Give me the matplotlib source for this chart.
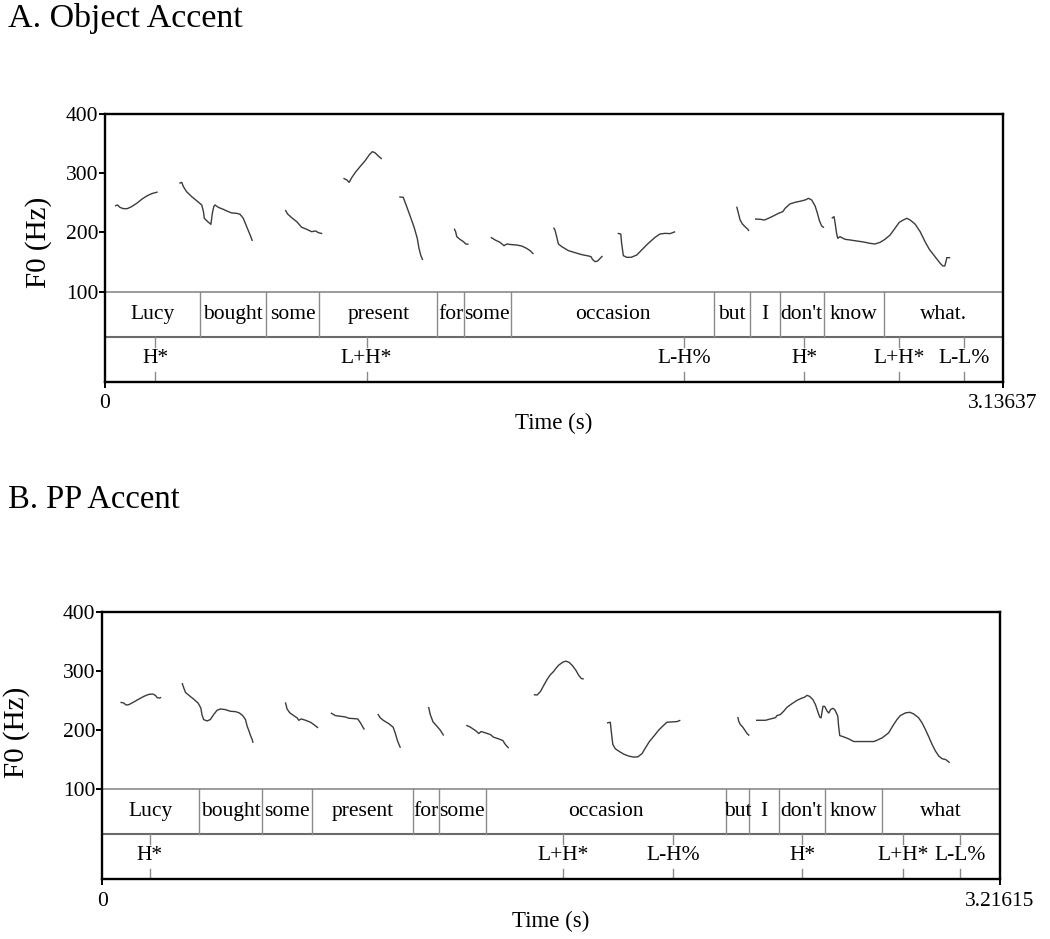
import matplotlib
matplotlib.use("Agg")
import matplotlib.pyplot as plt

plt.rcParams['font.family'] = ['Liberation Serif', 'DejaVu Serif']

# ---------------- Panel A: Object Accent ----------------
A_DURATION = 3.13637
A_WORDS = ["Lucy", "bought", "some", "present", "for", "some", "occasion",
           "but", "I", "don't", "know", "what."]
A_WORD_BOUNDS = [0.0, 0.331, 0.561, 0.749, 1.161, 1.253, 1.418, 2.128,
                 2.254, 2.357, 2.512, 2.721, 3.13637]
A_TONES = ["H*", "L+H*", "L-H%", "H*", "L+H*", "L-L%"]
A_TONE_TIMES = [0.176, 0.914, 2.023, 2.443, 2.773, 3.001]

A_F0_T = [
    [0.035, 0.044, 0.052, 0.064, 0.078, 0.093, 0.111, 0.128, 0.146, 0.163, 0.184],
    [0.260, 0.268, 0.274, 0.285, 0.303, 0.320, 0.338, 0.344, 0.347, 0.359, 0.370,
     0.375, 0.380, 0.384, 0.396, 0.413, 0.431, 0.443, 0.460, 0.472, 0.483, 0.495,
     0.507, 0.515],
    [0.630, 0.638, 0.652, 0.670, 0.687, 0.705, 0.722, 0.736, 0.745, 0.759],
    [0.833, 0.845, 0.853, 0.862, 0.874, 0.891, 0.909, 0.924, 0.934, 0.943, 0.955, 0.967],
    [1.028, 1.042, 1.052, 1.066, 1.080, 1.091, 1.097, 1.103, 1.110],
    [1.220, 1.225, 1.229, 1.240, 1.252, 1.261, 1.270],
    [1.348, 1.363, 1.380, 1.394, 1.404, 1.421, 1.438, 1.456, 1.473, 1.485, 1.497],
    [1.567, 1.572, 1.578, 1.584, 1.596, 1.619, 1.642, 1.666, 1.689, 1.698, 1.703,
     1.712, 1.721, 1.730, 1.738],
    [1.791, 1.802, 1.805, 1.811, 1.823, 1.838, 1.858, 1.875, 1.898, 1.922, 1.939,
     1.957, 1.974, 1.992],
    [2.207, 2.213, 2.219, 2.227, 2.236, 2.246, 2.250],
    [2.271, 2.289, 2.304, 2.318, 2.335, 2.353, 2.368, 2.376, 2.393, 2.411, 2.428,
     2.446, 2.458, 2.469, 2.481, 2.489, 2.496, 2.504, 2.512],
    [2.539, 2.547, 2.551, 2.556, 2.560, 2.568, 2.574, 2.586, 2.603, 2.626, 2.650,
     2.673, 2.690, 2.708, 2.725, 2.743, 2.760, 2.775, 2.789, 2.801, 2.813, 2.830,
     2.848, 2.865, 2.880, 2.900, 2.918, 2.927, 2.934, 2.939, 2.941, 2.953],
]
A_F0_HZ = [
    [244.7, 246.4, 242.4, 240.2, 240.2, 243.6, 249.2, 255.9, 261.6, 265.5, 268.3],
    [283.0, 284.6, 277.3, 268.9, 260.4, 253.7, 246.4, 235.1, 223.9, 218.2, 213.7,
     232.3, 243.6, 246.4, 242.4, 239.1, 235.1, 232.9, 232.3, 230.6, 223.9, 209.8,
     195.7, 185.6],
    [237.9, 231.2, 225.0, 218.2, 208.7, 205.3, 201.3, 202.5, 199.7, 198.0],
    [291.4, 288.6, 284.6, 292.5, 301.0, 311.1, 321.2, 331.4, 336.4, 334.7, 329.1, 324.0],
    [259.9, 259.3, 246.4, 227.8, 208.7, 190.1, 173.2, 161.9, 153.5],
    [206.4, 201.3, 192.9, 188.4, 184.5, 180.5, 180.0],
    [191.8, 187.3, 183.3, 177.7, 180.5, 179.4, 178.8, 177.1, 173.2, 169.3, 163.6],
    [208.1, 204.2, 192.9, 180.5, 176.0, 169.3, 165.9, 162.5, 160.3, 159.1, 154.6,
     150.7, 151.8, 156.3, 160.3],
    [198.5, 197.4, 181.6, 160.8, 158.0, 158.0, 161.9, 170.4, 181.6, 191.8, 197.4,
     198.5, 198.0, 201.3],
    [243.6, 232.3, 221.0, 214.3, 209.8, 205.3, 202.5],
    [222.7, 222.2, 221.0, 223.9, 227.8, 232.3, 235.1, 240.7, 248.1, 250.9, 252.6,
     254.8, 257.6, 254.8, 244.7, 232.3, 219.9, 210.9, 208.1],
    [223.9, 226.7, 215.4, 198.5, 190.1, 192.9, 191.2, 188.4, 187.3, 185.6, 183.9,
     181.6, 180.5, 183.3, 188.4, 195.7, 207.0, 217.1, 221.0, 223.9, 221.0, 214.3,
     201.3, 184.5, 171.5, 159.1, 147.9, 143.4, 143.4, 152.4, 157.4, 157.4],
]

# ---------------- Panel B: PP Accent ----------------
B_DURATION = 3.21615
B_WORDS = ["Lucy", "bought", "some", "present", "for", "some", "occasion",
           "but", "I", "don't", "know", "what"]
B_WORD_BOUNDS = [0.0, 0.348, 0.571, 0.752, 1.113, 1.205, 1.375, 2.235,
                 2.317, 2.423, 2.588, 2.795, 3.21615]
B_TONES = ["H*", "L+H*", "L-H%", "H*", "L+H*", "L-L%"]
B_TONE_TIMES = [0.170, 1.652, 2.044, 2.508, 2.868, 3.073]

B_F0_T = [
    [0.065, 0.077, 0.085, 0.095, 0.113, 0.131, 0.149, 0.167, 0.181, 0.190, 0.197,
     0.205, 0.211],
    [0.286, 0.292, 0.298, 0.312, 0.327, 0.343, 0.353, 0.357, 0.363, 0.375, 0.387,
     0.399, 0.411, 0.423, 0.441, 0.459, 0.477, 0.491, 0.503, 0.513, 0.519, 0.525,
     0.531, 0.537, 0.540],
    [0.656, 0.662, 0.672, 0.686, 0.698, 0.704, 0.713, 0.728, 0.746, 0.761, 0.773],
    [0.819, 0.835, 0.853, 0.871, 0.883, 0.901, 0.915, 0.925, 0.933, 0.939],
    [0.987, 0.996, 1.008, 1.026, 1.042, 1.050, 1.058, 1.068],
    [1.169, 1.175, 1.185, 1.199, 1.211, 1.223],
    [1.304, 1.319, 1.337, 1.349, 1.357, 1.373, 1.390, 1.402, 1.420, 1.435, 1.444, 1.456],
    [1.546, 1.558, 1.570, 1.581, 1.593, 1.605, 1.617, 1.623, 1.635, 1.650, 1.661,
     1.673, 1.685, 1.697, 1.707, 1.716, 1.725],
    [1.808, 1.820, 1.824, 1.829, 1.838, 1.856, 1.868, 1.886, 1.904, 1.919, 1.934,
     1.946, 1.960, 1.976, 1.993, 2.011, 2.023, 2.041, 2.059, 2.071],
    [2.277, 2.280, 2.286, 2.294, 2.302, 2.310, 2.318],
    [2.342, 2.358, 2.376, 2.394, 2.412, 2.417, 2.429, 2.441, 2.453, 2.471, 2.489,
     2.507, 2.515, 2.525, 2.534, 2.546, 2.555, 2.563, 2.570, 2.575, 2.579, 2.582,
     2.588, 2.597, 2.603, 2.609, 2.617, 2.624, 2.630, 2.635, 2.638, 2.642, 2.656,
     2.674, 2.692, 2.716, 2.740, 2.764, 2.776, 2.794, 2.817, 2.835, 2.847, 2.859,
     2.877, 2.893, 2.907, 2.925, 2.937, 2.949, 2.961, 2.973, 2.985, 2.997, 3.009,
     3.021, 3.029, 3.036],
]
B_F0_HZ = [
    [246.9, 245.8, 242.4, 243.0, 247.5, 252.5, 257.0, 260.4, 260.9, 258.7, 254.8,
     254.2, 255.3],
    [279.5, 271.0, 263.7, 258.1, 252.5, 245.8, 237.4, 226.2, 217.8, 215.5, 217.8,
     226.2, 233.5, 235.7, 234.6, 231.8, 231.2, 229.0, 224.5, 217.8, 206.5, 199.2,
     190.8, 184.1, 178.5],
    [246.9, 235.7, 229.0, 224.5, 220.6, 216.6, 218.9, 216.6, 213.3, 208.2, 203.7],
    [229.0, 224.5, 223.4, 222.2, 220.0, 219.4, 218.9, 212.2, 205.4, 200.9],
    [227.3, 220.6, 216.1, 211.0, 204.9, 194.2, 181.3, 170.1],
    [239.1, 226.2, 213.8, 206.5, 199.8, 190.8],
    [208.2, 204.9, 199.2, 194.2, 197.6, 195.3, 192.5, 188.0, 185.2, 182.4, 175.7, 169.5],
    [259.8, 259.3, 265.4, 275.0, 285.1, 293.5, 299.1, 303.0, 309.7, 314.8, 316.5,
     314.2, 308.6, 300.8, 292.4, 287.3, 286.2],
    [212.1, 213.3, 195.3, 175.7, 168.4, 162.8, 159.4, 156.1, 154.4, 154.9, 160.5,
     170.1, 180.7, 189.7, 199.8, 208.2, 213.3, 213.8, 214.4, 216.6],
    [222.2, 215.0, 209.3, 205.4, 199.8, 194.2, 190.8],
    [216.6, 216.6, 216.6, 218.9, 221.1, 224.5, 226.2, 231.8, 238.5, 244.7, 250.3,
     254.2, 255.3, 258.7, 257.0, 251.4, 243.0, 231.8, 222.2, 220.6, 231.8, 240.2,
     240.2, 231.8, 228.9, 234.6, 236.8, 234.6, 228.9, 223.4, 206.5, 190.8, 188.6,
     185.2, 180.7, 180.7, 180.7, 180.7, 183.0, 186.9, 195.3, 209.3, 217.8, 224.5,
     229.0, 230.1, 227.3, 220.6, 212.2, 200.9, 188.6, 175.7, 164.5, 156.1, 151.6,
     150.4, 147.6, 144.8],
]

Y_TICKS = [100, 200, 300, 400]

# tier geometry (in Hz units of the shared axis)
Y_TOP = 400
Y_F0_BOTTOM = 100
Y_WORD_BOTTOM = 24
Y_BOTTOM = -52
MARK_LEN = 17

W, H = 1050, 939
fig = plt.figure(figsize=(W / 100, H / 100), dpi=100)


def px_rect(left, top, right, bottom):
    return [left / W, 1 - bottom / H, (right - left) / W, (bottom - top) / H]


def draw_panel(rect, duration, words, bounds, tones, tone_times, f0_t, f0_hz,
               title, title_y, title_size, ylab_x, ylab_y):
    ax = fig.add_axes(rect)
    ax.set_xlim(0, duration)
    ax.set_ylim(Y_BOTTOM, Y_TOP)
    for s in ax.spines.values():
        s.set_linewidth(1.7)
        s.set_color('black')

    # F0 contours
    for t, hz in zip(f0_t, f0_hz):
        ax.plot(t, hz, color='#3c3c3c', lw=1.0, solid_capstyle='butt')

    # tier separators
    ax.axhline(Y_F0_BOTTOM, color='#8a8a8a', lw=1.2)
    ax.axhline(Y_WORD_BOTTOM, color='#6a6a6a', lw=1.5)

    # word tier
    for b in bounds[1:-1]:
        ax.plot([b, b], [Y_WORD_BOTTOM, Y_F0_BOTTOM], color='#8a8a8a', lw=1.0)
    for i, w in enumerate(words):
        ax.text((bounds[i] + bounds[i + 1]) / 2, (Y_WORD_BOTTOM + Y_F0_BOTTOM) / 2,
                w, ha='center', va='center', fontsize=15.5)

    # tone tier
    for tt, lab in zip(tone_times, tones):
        ax.plot([tt, tt], [Y_WORD_BOTTOM, Y_WORD_BOTTOM - MARK_LEN], color='#8a8a8a', lw=1.0)
        ax.plot([tt, tt], [Y_BOTTOM, Y_BOTTOM + MARK_LEN], color='#8a8a8a', lw=1.0)
        ax.text(tt, (Y_WORD_BOTTOM + Y_BOTTOM) / 2 + 2, lab, ha='center', va='center',
                fontsize=15.5)

    ax.set_yticks(Y_TICKS)
    ax.set_yticklabels([str(v) for v in Y_TICKS])
    ax.set_xticks([0, duration])
    ax.set_xticklabels(["0", f"{duration:.5f}"])
    ax.tick_params(axis='y', direction='out', length=4.5, width=1.4, pad=0.5,
                   labelsize=15.5)
    ax.tick_params(axis='x', direction='out', length=4, width=1.4, pad=5,
                   labelsize=15.5)
    ax.set_xlabel("Time (s)", fontsize=16.5, labelpad=0)

    fig.text(8 / W, 1 - title_y / H, title, fontsize=title_size, ha='left', va='center')
    fig.text(ylab_x / W, 1 - ylab_y / H, "F0 (Hz)", fontsize=21, rotation=90,
             ha='center', va='center')
    return ax


draw_panel(px_rect(105, 114, 1002.7, 381.7), A_DURATION, A_WORDS, A_WORD_BOUNDS,
           A_TONES, A_TONE_TIMES, A_F0_T, A_F0_HZ, "A. Object Accent", 19, 24.5, 38.5, 242)
draw_panel(px_rect(102.3, 611.7, 1000, 879.3), B_DURATION, B_WORDS, B_WORD_BOUNDS,
           B_TONES, B_TONE_TIMES, B_F0_T, B_F0_HZ, "B. PP Accent", 500, 23.5, 16.5, 732)

fig.savefig("out.png", dpi=100)
